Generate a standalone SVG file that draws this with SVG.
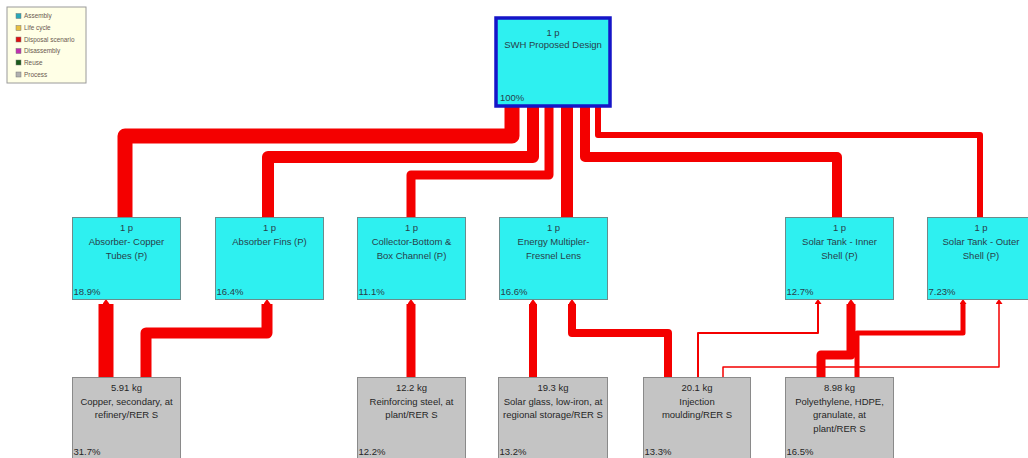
<svg xmlns="http://www.w3.org/2000/svg" width="1028" height="458" viewBox="0 0 1028 458">
<defs>
<style>
.bg{fill:#ffffff}
.asm{fill:#2ef0f0;stroke:#6a8c8c;stroke-width:1}
.top{fill:#2ef0f0;stroke:#1515c8;stroke-width:3.5}
.proc{fill:#c4c4c4;stroke:#8a8a8a;stroke-width:1}
.t{font-family:"Liberation Sans",Arial,sans-serif;font-size:9.5px;fill:#28404a;text-anchor:middle}
.tp{font-family:"Liberation Sans",Arial,sans-serif;font-size:9.5px;fill:#28404a}
.g{fill:#262626}
.c{fill:none;stroke:#f40000;stroke-linejoin:round;stroke-linecap:butt}
.lg{fill:#ffffe6;stroke:#9a9a9a;stroke-width:1}
.lt{font-family:"Liberation Sans",Arial,sans-serif;font-size:6.4px;fill:#6a5a50}
</style>
<marker id="ah" markerUnits="userSpaceOnUse" markerWidth="5" markerHeight="7" viewBox="0 0 5 7" refX="0" refY="3.5" orient="auto">
<path d="M0,0 L5,3.5 L0,7 z" fill="#f40000"/>
</marker>
</defs>
<rect class="bg" x="0" y="0" width="1028" height="458"/>

<g id="legend">
<rect class="lg" x="7" y="7" width="79" height="76"/>
<rect x="16" y="13.5" width="5" height="5" fill="#2aa8b8" stroke="#777" stroke-width="0.5"/>
<text class="lt" x="24" y="18.3">Assembly</text>
<rect x="16" y="25.5" width="5" height="5" fill="#e8c040" stroke="#777" stroke-width="0.5"/>
<text class="lt" x="24" y="30.3">Life cycle</text>
<rect x="16" y="37" width="5" height="5" fill="#e01010" stroke="#777" stroke-width="0.5"/>
<text class="lt" x="24" y="41.8" fill="#a03030">Disposal scenario</text>
<rect x="16" y="48.5" width="5" height="5" fill="#c030b0" stroke="#777" stroke-width="0.5"/>
<text class="lt" x="24" y="53.3">Disassembly</text>
<rect x="16" y="60" width="5" height="5" fill="#1a5a1a" stroke="#777" stroke-width="0.5"/>
<text class="lt" x="24" y="64.8">Reuse</text>
<rect x="16" y="72" width="5" height="5" fill="#b0b0b0" stroke="#777" stroke-width="0.5"/>
<text class="lt" x="24" y="76.8">Process</text>
</g>

<g id="connectors">
<path class="c" d="M512,107 V136 H125 V217" stroke-width="15"/>
<path class="c" d="M533,107 V157 H268 V217" stroke-width="12"/>
<path class="c" d="M549,107 V175 H411 V217" stroke-width="9"/>
<path class="c" d="M567,107 V217" stroke-width="12"/>
<path class="c" d="M585,107 V157 H837 V217" stroke-width="10"/>
<path class="c" d="M598,107 V135 H980 V217" stroke-width="6"/>

<path class="c" d="M106,377 V304" stroke-width="15" marker-end="url(#ah)"/>
<path class="c" d="M146,377 V333 H267 V304" stroke-width="11" marker-end="url(#ah)"/>
<path class="c" d="M411,377 V304" stroke-width="9" marker-end="url(#ah)"/>
<path class="c" d="M533,377 V304" stroke-width="8" marker-end="url(#ah)"/>
<path class="c" d="M668,377 V333 H572 V304" stroke-width="8" marker-end="url(#ah)"/>
<path class="c" d="M698,377 V333 H818 V304" stroke-width="2" marker-end="url(#ah)"/>
<path class="c" d="M723,377 V367 H999 V304" stroke-width="1.5" marker-end="url(#ah)"/>
<path class="c" d="M821,377 V355 H851 V304" stroke-width="9" marker-end="url(#ah)"/>
<path class="c" d="M857,377 V333 H963 V304" stroke-width="5" marker-end="url(#ah)"/>
</g>

<g id="n-swh">
<rect class="top" x="496" y="18" width="114" height="88"/>
<text class="t" x="553" y="36">1 p</text>
<text class="t" x="553" y="48">SWH Proposed Design</text>
<text class="tp" x="500" y="101">100%</text>
</g>

<g id="n-copper-tubes">
<rect class="asm" x="72.5" y="217.5" width="108" height="82"/>
<text class="t" x="126.5" y="231">1 p</text>
<text class="t" x="126.5" y="245">Absorber- Copper</text>
<text class="t" x="126.5" y="258.5">Tubes (P)</text>
<text class="tp" x="73.5" y="295">18.9%</text>
</g>

<g id="n-fins">
<rect class="asm" x="215.5" y="217.5" width="108" height="82"/>
<text class="t" x="269.5" y="231">1 p</text>
<text class="t" x="269.5" y="245">Absorber Fins (P)</text>
<text class="tp" x="216.5" y="295">16.4%</text>
</g>

<g id="n-collector">
<rect class="asm" x="357.5" y="217.5" width="108" height="82"/>
<text class="t" x="411.5" y="231">1 p</text>
<text class="t" x="411.5" y="245">Collector-Bottom &amp;</text>
<text class="t" x="411.5" y="258.5">Box Channel (P)</text>
<text class="tp" x="358.5" y="295">11.1%</text>
</g>

<g id="n-energy">
<rect class="asm" x="499.5" y="217.5" width="108" height="82"/>
<text class="t" x="553.5" y="231">1 p</text>
<text class="t" x="553.5" y="245">Energy Multipler-</text>
<text class="t" x="553.5" y="258.5">Fresnel Lens</text>
<text class="tp" x="500.5" y="295">16.6%</text>
</g>

<g id="n-inner">
<rect class="asm" x="785.5" y="217.5" width="108" height="82"/>
<text class="t" x="839.5" y="231">1 p</text>
<text class="t" x="839.5" y="245">Solar Tank - Inner</text>
<text class="t" x="839.5" y="258.5">Shell (P)</text>
<text class="tp" x="786.5" y="295">12.7%</text>
</g>

<g id="n-outer">
<rect class="asm" x="927.5" y="217.5" width="108" height="82"/>
<text class="t" x="981" y="231">1 p</text>
<text class="t" x="981" y="245">Solar Tank - Outer</text>
<text class="t" x="981" y="258.5">Shell (P)</text>
<text class="tp" x="928.5" y="295">7.23%</text>
</g>

<g id="n-copper">
<rect class="proc" x="72.5" y="377.5" width="108" height="90"/>
<text class="t g" x="126.5" y="390.5">5.91 kg</text>
<text class="t g" x="126.5" y="404.5">Copper, secondary, at</text>
<text class="t g" x="126.5" y="418">refinery/RER S</text>
<text class="tp g" x="73.5" y="455">31.7%</text>
</g>

<g id="n-steel">
<rect class="proc" x="357.5" y="377.5" width="108" height="90"/>
<text class="t g" x="411.5" y="390.5">12.2 kg</text>
<text class="t g" x="411.5" y="404.5">Reinforcing steel, at</text>
<text class="t g" x="411.5" y="418">plant/RER S</text>
<text class="tp g" x="358.5" y="455">12.2%</text>
</g>

<g id="n-glass">
<rect class="proc" x="498.5" y="377.5" width="109" height="90"/>
<text class="t g" x="553" y="390.5">19.3 kg</text>
<text class="t g" x="553" y="404.5">Solar glass, low-iron, at</text>
<text class="t g" x="553" y="418">regional storage/RER S</text>
<text class="tp g" x="499.5" y="455">13.2%</text>
</g>

<g id="n-injection">
<rect class="proc" x="643.5" y="377.5" width="107" height="90"/>
<text class="t g" x="697" y="390.5">20.1 kg</text>
<text class="t g" x="697" y="404.5">Injection</text>
<text class="t g" x="697" y="418">moulding/RER S</text>
<text class="tp g" x="644.5" y="455">13.3%</text>
</g>

<g id="n-hdpe">
<rect class="proc" x="785.5" y="377.5" width="108" height="90"/>
<text class="t g" x="839.5" y="390.5">8.98 kg</text>
<text class="t g" x="839.5" y="404.5">Polyethylene, HDPE,</text>
<text class="t g" x="839.5" y="418">granulate, at</text>
<text class="t g" x="839.5" y="431.5">plant/RER S</text>
<text class="tp g" x="786.5" y="455">16.5%</text>
</g>
</svg>
